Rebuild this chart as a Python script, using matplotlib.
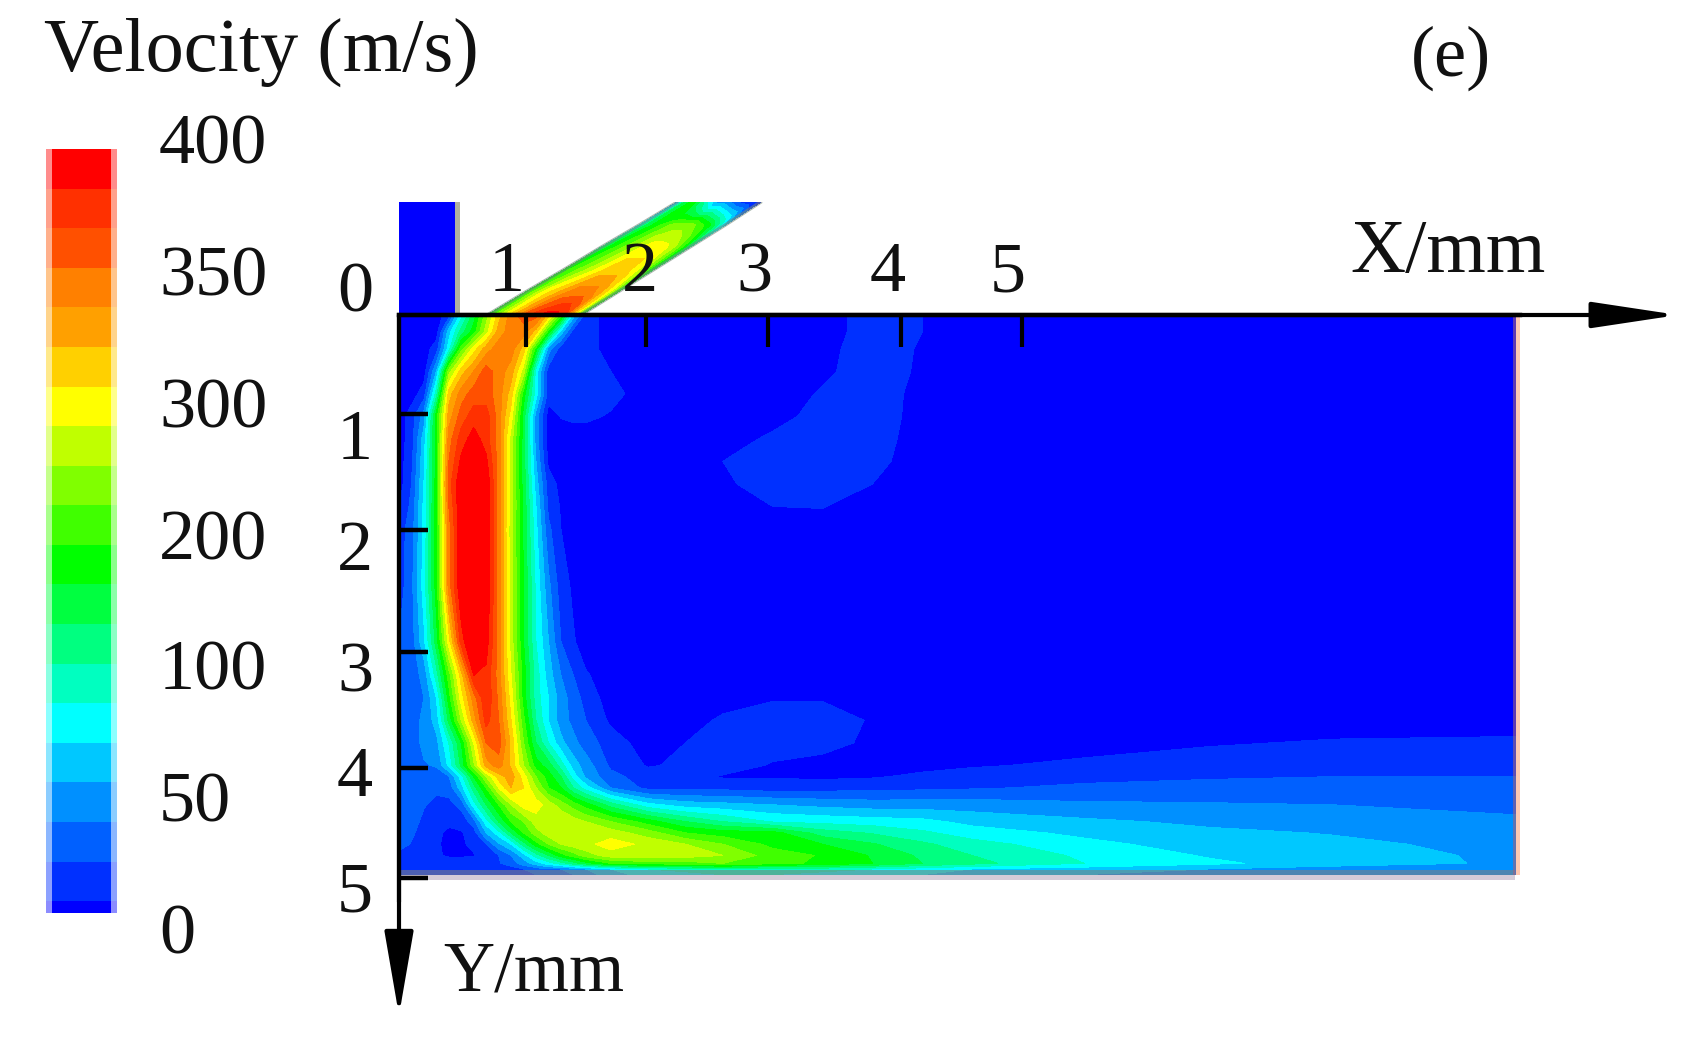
import numpy as np
import matplotlib
matplotlib.use("Agg")
import matplotlib.pyplot as plt
from matplotlib.patches import Rectangle

W, H = 1696, 1037
plt.rcParams['font.family'] = ['Liberation Serif', 'DejaVu Serif']

# colour bands of the legend, bottom to top
band_colors = ['#0000ff', '#0030ff', '#0060ff', '#0090ff', '#00c8ff', '#00ffff', '#00ffc0',
               '#00ff80', '#00ff40', '#00ff00', '#40ff00', '#80ff00', '#c0ff00', '#ffff00',
               '#ffd000', '#ffa000', '#ff8000', '#ff5000', '#ff3000', '#ff0000']
band_edges = [0, 10, 30, 50, 70, 90, 110, 130, 150, 170, 190, 210, 230, 250, 270, 290, 310,
              330, 350, 370, 410]

legend_labels = ['400', '350', '300', '200', '100', '50', '0']

# stations of the velocity table, in mm
x_stations = [0, .1, .2, .3, .4, .5, .6, .7, .8, .9, 1.0, 1.1, 1.2, 1.3, 1.4, 1.5,
              1.7, 2.0, 2.3, 2.6, 3.0, 3.4, 3.8, 4.2, 4.6, 5.5, 6.5, 7.5, 9.0]
y_stations = [0, .15, .3, .5, .7, .9, 1.1, 1.3, 1.5, 1.7, 1.9, 2.4, 2.9, 3.2, 3.4, 3.6, 3.8,
              4.0, 4.1, 4.2, 4.35, 4.5, 4.6, 4.7, 4.8, 4.87, 4.92, 4.97]

# velocity (m/s), one row per y station
velocity = [
    [0, 0, 0, 0, 20, 100, 160, 220, 280, 320, 340, 340, 280, 200, 80, 20, 0, 0, 0, 0, 0, 0, 20, 10, 0, 0, 0, 0, 0],
    [0, 0, 0, 0, 80, 140, 180, 240, 300, 320, 320, 280, 180, 80, 20, 20, 0, 0, 0, 0, 0, 0, 20, 10, 0, 0, 0, 0, 0],
    [0, 0, 0, 20, 100, 200, 260, 300, 320, 320, 280, 180, 60, 20, 20, 20, 0, 0, 0, 0, 0, 4, 20, 8, 0, 0, 0, 0, 0],
    [0, 0, 0, 70, 220, 280, 310, 340, 320, 300, 240, 100, 20, 20, 20, 20, 10, 0, 0, 0, 0, 6, 20, 7, 0, 0, 0, 0, 0],
    [0, 0, 20, 120, 280, 320, 340, 340, 320, 280, 180, 100, 20, 12, 20, 20, 16, 0, 0, 0, 0, 12, 20, 4, 0, 0, 0, 0, 0],
    [0, 20, 60, 180, 300, 340, 360, 360, 320, 260, 160, 60, 0, 11, 14, 14, 8, 0, 0, 0, 2, 18, 20, 3, 0, 0, 0, 0, 0],
    [0, 20, 80, 180, 320, 360, 380, 360, 320, 240, 160, 60, 0, 0, 0, 0, 0, 0, 0, 0, 14, 20, 20, 0, 0, 0, 0, 0, 0],
    [0, 25, 85, 180, 330, 375, 390, 375, 320, 240, 160, 70, 5, 0, 0, 0, 0, 0, 0, 10, 20, 20, 16, 0, 0, 0, 0, 0, 0],
    [0, 30, 90, 180, 340, 390, 400, 390, 320, 240, 160, 80, 20, 4, 0, 0, 0, 0, 0, 6, 20, 20, 10, 0, 0, 0, 0, 0, 0],
    [10, 35, 95, 180, 330, 390, 400, 390, 320, 240, 165, 90, 25, 8, 0, 0, 0, 0, 0, 0, 10, 11, 0, 0, 0, 0, 0, 0, 0],
    [20, 40, 95, 180, 320, 390, 400, 390, 320, 235, 165, 95, 35, 10, 0, 0, 0, 0, 0, 0, 0, 0, 0, 0, 0, 0, 0, 0, 0],
    [20, 44, 100, 180, 320, 390, 400, 390, 320, 240, 170, 105, 55, 20, 6, 0, 0, 0, 0, 0, 0, 0, 0, 0, 0, 0, 0, 0, 0],
    [30, 40, 85, 160, 260, 360, 400, 380, 320, 240, 170, 110, 70, 30, 12, 0, 0, 0, 0, 0, 0, 0, 0, 0, 0, 0, 0, 0, 0],
    [36, 40, 56, 120, 200, 280, 370, 365, 320, 250, 180, 120, 80, 50, 30, 12, 0, 0, 0, 0, 0, 0, 0, 0, 0, 0, 0, 0, 0],
    [40, 40, 50, 90, 180, 260, 320, 368, 325, 260, 180, 120, 90, 60, 40, 22, 0, 0, 0, 0, 8, 8, 0, 0, 0, 0, 0, 0, 0],
    [40, 40, 55, 78, 155, 230, 300, 358, 330, 270, 195, 130, 90, 60, 44, 30, 6, 0, 0, 14, 20, 20, 8, 0, 0, 0, 0, 0, 0],
    [40, 40, 55, 64, 110, 170, 250, 330, 340, 285, 210, 150, 110, 76, 56, 40, 20, 0, 10, 20, 20, 20, 4, 0, 0, 2, 8, 12, 14],
    [40, 40, 48, 52, 95, 155, 225, 300, 320, 285, 230, 180, 160, 120, 80, 60, 26, 8, 14, 20, 8, 0, 0, 4, 8, 14, 20, 24, 24],
    [40, 40, 40, 40, 48, 100, 170, 230, 280, 300, 260, 210, 180, 150, 100, 66, 36, 20, 20, 8, 8, 6, 8, 14, 18, 24, 28, 30, 30],
    [40, 40, 40, 36, 38, 80, 140, 190, 250, 290, 270, 230, 190, 170, 130, 100, 50, 24, 24, 24, 20, 22, 24, 26, 28, 34, 36, 38, 36],
    [40, 40, 32, 22, 24, 36, 100, 150, 190, 230, 260, 260, 240, 220, 200, 180, 140, 96, 80, 76, 70, 64, 60, 60, 60, 54, 52, 50, 44],
    [40, 40, 24, 18, 14, 18, 40, 100, 150, 190, 210, 240, 250, 250, 240, 230, 210, 180, 150, 130, 108, 104, 100, 96, 84, 74, 66, 62, 54],
    [40, 34, 20, 14, 6, 8, 20, 70, 100, 150, 190, 220, 240, 250, 250, 250, 240, 220, 190, 180, 178, 140, 128, 114, 100, 85, 74, 69, 60],
    [40, 28, 20, 12, 6, 6, 16, 30, 66, 90, 140, 180, 210, 230, 240, 244, 260, 244, 230, 210, 184, 170, 152, 134, 118, 96, 80, 74, 64],
    [22, 18, 18, 14, 6, 6, 8, 20, 30, 50, 80, 120, 150, 180, 200, 220, 240, 244, 240, 230, 200, 188, 168, 146, 130, 106, 88, 78, 66],
    [24, 24, 24, 24, 24, 24, 24, 24, 28, 40, 60, 80, 100, 120, 140, 160, 190, 200, 200, 210, 196, 186, 170, 150, 136, 110, 94, 80, 66],
    [20, 20, 20, 20, 20, 20, 20, 20, 20, 20, 30, 40, 50, 50, 60, 70, 90, 110, 120, 130, 120, 120, 110, 100, 90, 80, 70, 60, 60],
    [20, 20, 20, 20, 20, 20, 20, 20, 20, 20, 20, 30, 40, 40, 50, 60, 80, 100, 100, 110, 110, 100, 100, 90, 80, 70, 60, 56, 50],
]

# slanted inlet: rows from the wall upwards, columns across the inlet
inlet_y = [0, -.2, -.4, -.6, -.8, -1.0]
inlet_left = [.71, 1.01, 1.32, 1.62, 1.93, 2.23]
inlet_right = [1.46, 1.75, 2.04, 2.33, 2.62, 2.90]
inlet_across = [0, .1, .2, .3, .4, .5, .6, .7, .8, .9, 1]
inlet_velocity = [
    [180, 220, 260, 300, 340, 360, 380, 380, 360, 280, 180],
    [180, 220, 260, 280, 300, 320, 320, 320, 300, 260, 180],
    [180, 200, 220, 240, 260, 280, 280, 280, 260, 220, 160],
    [140, 180, 200, 220, 240, 260, 260, 260, 240, 200, 140],
    [100, 160, 180, 200, 220, 220, 220, 200, 180, 140, 80],
    [60, 160, 180, 140, 100, 60, 60, 40, 20, 20, 0],
]

# ticks sit a little unevenly in the original
x_tick_pos = [1.02, 1.98, 2.96, 4.03, 5.0]
y_tick_pos = [.88, 1.91, 2.99, 4.02, 5.0]
x_tick_labels = ['1', '2', '3', '4', '5']
y_tick_labels = ['0', '1', '2', '3', '4', '5']


def fx(px):
    return px / W


def fy(py):
    return 1 - py / H


fig = plt.figure(figsize=(W / 100, H / 100), dpi=100, facecolor='white')

# legend bar
cax = fig.add_axes([fx(46), fy(913), fx(117) - fx(46), fy(149) - fy(913)])
bar_values = np.arange(len(band_colors)).reshape(-1, 1)
bar_cmap = matplotlib.colors.ListedColormap(band_colors)
cax.pcolormesh([0, 1], band_edges, bar_values, cmap=bar_cmap, vmin=-.5, vmax=19.5, alpha=.45, linewidth=0)
cax.pcolormesh([.08, .92], band_edges, bar_values, cmap=bar_cmap, vmin=-.5, vmax=19.5, linewidth=0)
cax.set_xlim(0, 1)
cax.set_ylim(4, 390)
cax.axis('off')

# main plot, axes in mm
ax = fig.add_axes([fx(399), fy(900.5), fx(1520) - fx(399), fy(202.4) - fy(900.5)])
ax.set_xlim(0, 9)
ax.set_ylim(5.2, -1.0)

ax.contourf(x_stations, y_stations, velocity, levels=band_edges, colors=band_colors)

inlet_vals = np.array(inlet_velocity)
frac = np.array(inlet_across)
inlet_x = np.array([l + frac * (r - l) for l, r in zip(inlet_left, inlet_right)])
inlet_yy = np.array([[y] * len(frac) for y in inlet_y])
ax.contourf(inlet_x, inlet_yy, inlet_vals, levels=band_edges, colors=band_colors)
ax.plot(inlet_left, inlet_y, color='#708878', lw=2.5, alpha=.6, zorder=1.5)
ax.plot(inlet_right, inlet_y, color='#708878', lw=2.5, alpha=.6, zorder=1.5)

# straight inlet and the soft edges of the original image
ax.add_patch(Rectangle((0, -1), .45, 1, fc='#0000ff', ec='none'))
ax.add_patch(Rectangle((.45, -1), .04, 1, fc='#b0b0a0', ec='none'))
ax.add_patch(Rectangle((0, 4.93), 8.96, .04, fc='#808080', ec='none', alpha=.6))
ax.add_patch(Rectangle((0, 4.97), 8.96, .05, fc='#d4ccd8', ec='none'))
ax.add_patch(Rectangle((8.94, 0), .03, 4.97, fc='#a06080', ec='none', alpha=.6))
ax.add_patch(Rectangle((8.97, 0), .03, 4.97, fc='#ffc8b0', ec='none'))

# axes lines with arrow heads
for name in ['right', 'bottom']:
    ax.spines[name].set_visible(False)
ax.patch.set_alpha(0)
ax.spines['top'].set_position(('data', 0))
ax.spines['top'].set_linewidth(3.2)
ax.spines['left'].set_linewidth(3)
ax.spines['left'].set_bounds(0, 5.2)
ax.xaxis.set_ticks_position('top')
ax.set_xticks(x_tick_pos, [''] * 5)
ax.set_yticks(y_tick_pos, [''] * 5)
ax.tick_params(axis='x', direction='in', length=23, width=3)
ax.tick_params(axis='y', direction='in', length=21, width=3.2)

ax.annotate('', xy=(10.27, 0), xytext=(0, 0), annotation_clip=False,
            arrowprops=dict(arrowstyle='-|>,head_length=53,head_width=8', mutation_scale=1,
                            lw=3, color='k', shrinkA=0, shrinkB=0))
ax.annotate('', xy=(0, 6.22), xytext=(0, 0), annotation_clip=False,
            arrowprops=dict(arrowstyle='-|>,head_length=52,head_width=9', mutation_scale=1,
                            lw=3, color='k', shrinkA=0, shrinkB=0))

# texts, placed where the original has them
fs = 52
fig.text(fx(44), fy(71), 'Velocity (m/s)', fontsize=55, color='#111111')
fig.text(fx(1451), fy(76), '(e)', fontsize=fs, ha='center', color='#111111')
fig.text(fx(1350), fy(272), 'X/mm', fontsize=55, color='#111111')
fig.text(fx(443), fy(991), 'Y/mm', fontsize=51, color='#111111')

legend_base = [164, 296, 427, 560, 690, 822, 954]
for lab, py in zip(legend_labels, legend_base):
    fig.text(fx(159), fy(py), lab, fontsize=fs, color='#111111')

x_label_px = [507, 640, 754, 888, 1008]
for lab, px in zip(x_tick_labels, x_label_px):
    fig.text(fx(px), fy(291), lab, fontsize=fs, ha='center', color='#111111', zorder=5)

y_label_base = [312, 459, 570, 691, 796, 912]
for lab, py in zip(y_tick_labels, y_label_base):
    fig.text(fx(355), fy(py), lab, fontsize=fs, ha='center', color='#111111')

fig.savefig('out.png', dpi=100)
